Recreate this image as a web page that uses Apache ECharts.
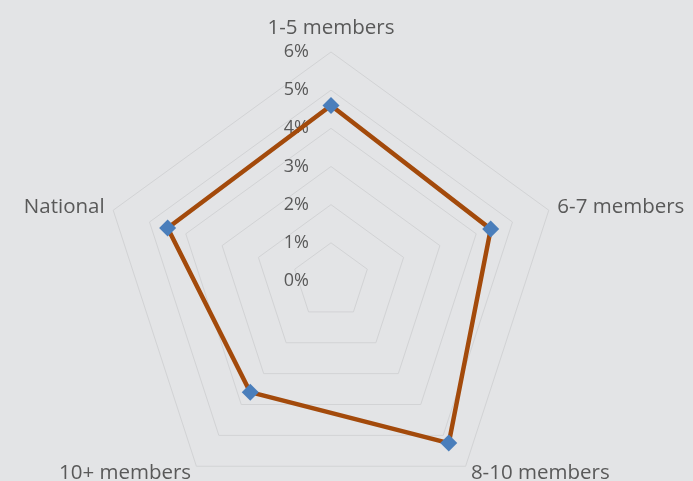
<!DOCTYPE html>
<html><head><meta charset="utf-8">
<script src="https://cdn.jsdelivr.net/npm/echarts@6/dist/echarts.min.js"></script>
<style>html,body{margin:0;padding:0;background:#e3e4e6;}#c{width:693px;height:481px;}</style>
</head><body><div id="c"></div>
<script>
// Categories clockwise from the top, as in the reference
const categories = ['1-5 members', '6-7 members', '8-10 members', '10+ members', 'National'];
const values = [4.6, 4.4, 5.25, 3.6, 4.5];
const tickMin = 0, tickMax = 6, tickStep = 1;

// ECharts radar runs counter-clockwise: reorder so the first stays on top and the rest go clockwise
const order = [0].concat(categories.map((_, i) => i).slice(1).reverse());
const radarNames = order.map(i => categories[i]);
const radarValues = order.map(i => values[i]);

const chart = echarts.init(document.getElementById('c'));
const font = 'Open Sans';
chart.setOption({
  backgroundColor: '#e3e4e6',
  animation: false,
  polar: { center: [331, 281], radius: 229 },
  angleAxis: { show: false, startAngle: 90, min: 0, max: 360 },
  radiusAxis: {
    min: tickMin, max: tickMax, interval: tickStep,
    axisLine: { show: false }, axisTick: { show: false }, splitLine: { show: false },
    axisLabel: { formatter: '{value}%', color: '#595959', fontSize: 18, fontFamily: font, margin: 22 }
  },
  radar: {
    center: [331, 281], radius: 229, startAngle: 90, shape: 'polygon',
    splitNumber: 6,
    indicator: radarNames.map(n => ({ name: n, min: tickMin, max: tickMax })),
    axisName: {
      color: '#595959', fontSize: 20.5, fontFamily: font,
      formatter: n => n === categories[0] ? '{t|' + n + '}' : n,
      rich: { t: { color: '#595959', fontSize: 20.5, fontFamily: font, padding: [0, 0, 4, 0] } }
    },
    nameGap: 9,
    axisLine: { show: false },
    axisTick: { show: false },
    splitArea: { show: false },
    splitLine: { lineStyle: { color: '#d2d3d5', width: 1 } }
  },
  series: [{
    type: 'radar',
    symbol: 'diamond', symbolSize: 17,
    itemStyle: { color: '#4a7ebb' },
    lineStyle: { color: '#a34a0b', width: 4.5 },
    data: [{ value: radarValues }]
  }]
});
</script></body></html>
